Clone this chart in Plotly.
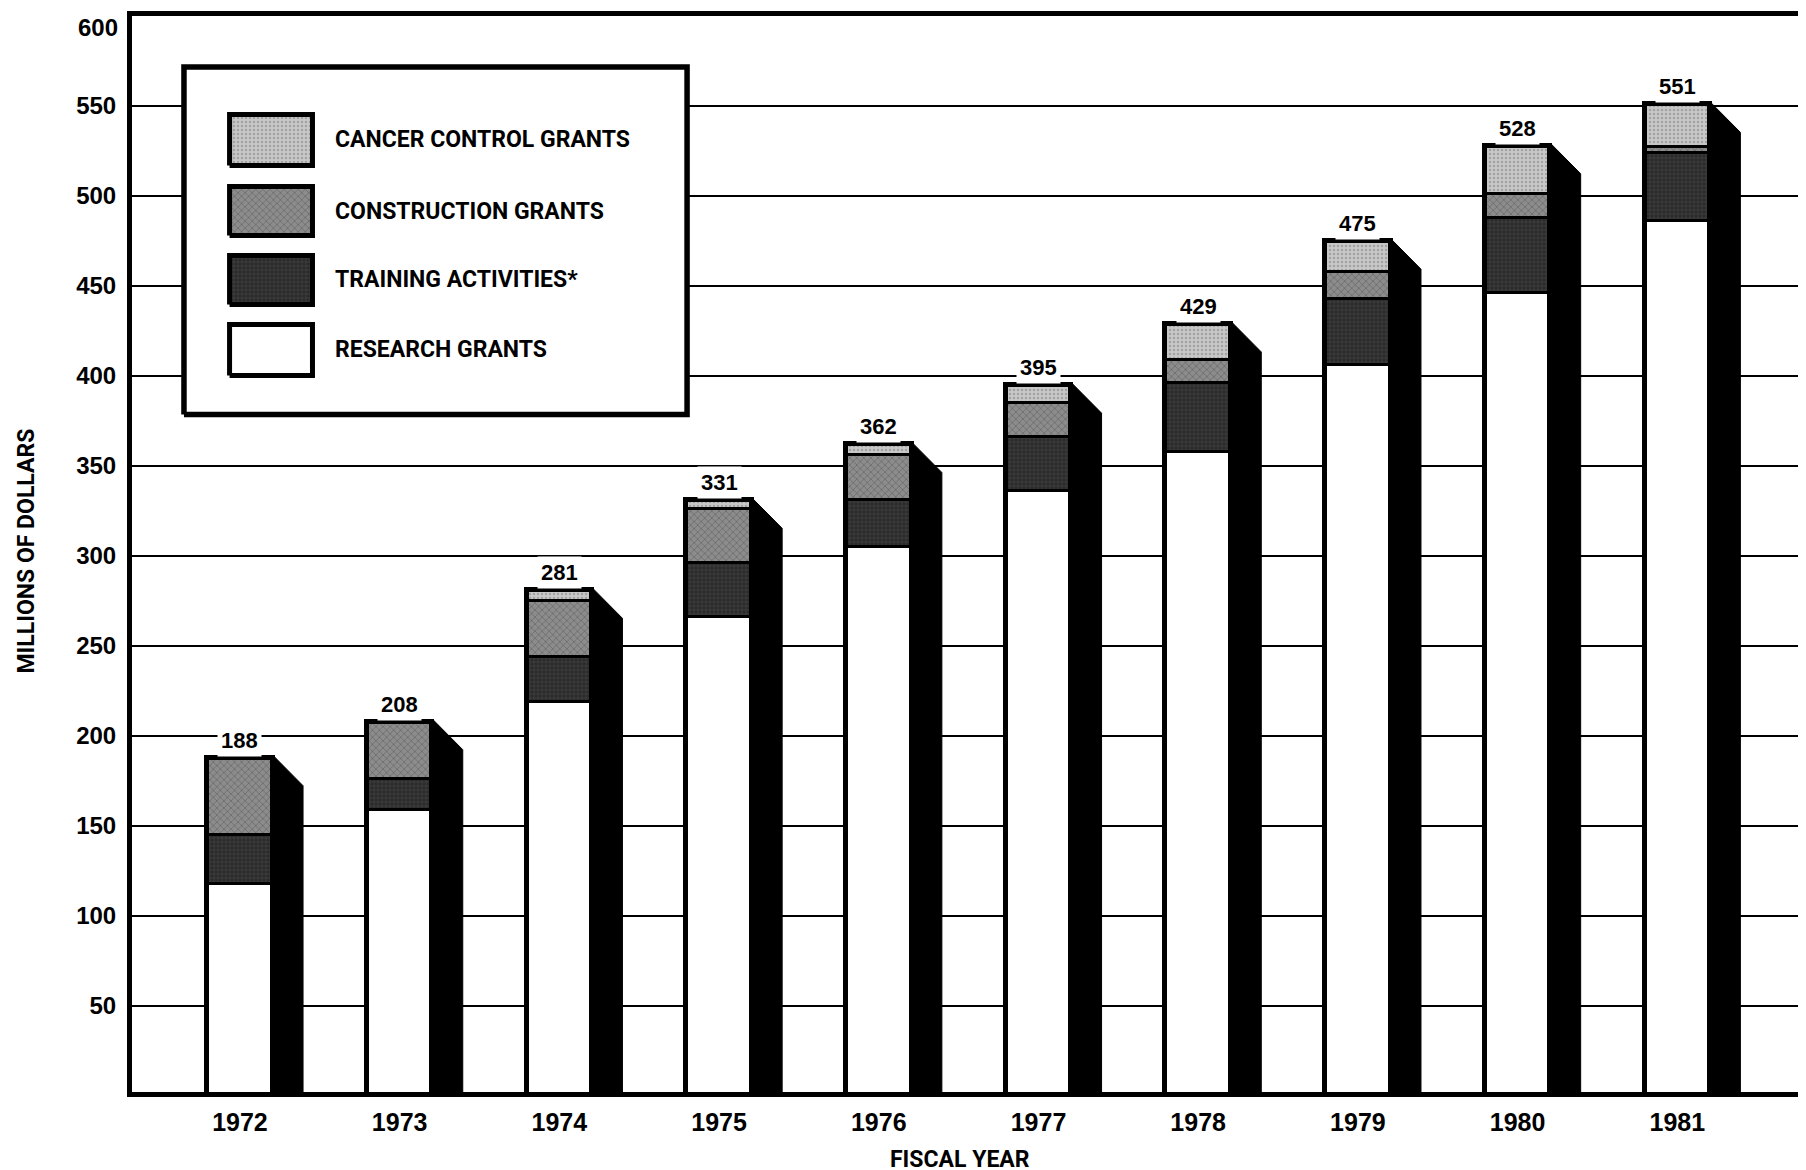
import plotly.graph_objects as go

# ---------------- data (millions of dollars) ----------------
years = [1972, 1973, 1974, 1975, 1976, 1977, 1978, 1979, 1980, 1981]
research_grants = [118, 159, 219, 266, 305, 336, 358, 406, 446, 486]
training_activities = [27, 17, 25, 30, 26, 30, 38, 37, 42, 38]
construction_grants = [43, 32, 31, 30, 25, 19, 13, 15, 13, 3]
cancer_control_grants = [0, 0, 6, 5, 6, 10, 20, 17, 27, 24]
total_labels = [188, 208, 281, 331, 362, 395, 429, 475, 528, 551]
y_ticks = [50, 100, 150, 200, 250, 300, 350, 400, 450, 500, 550, 600]
legend_names = ["CANCER CONTROL GRANTS", "CONSTRUCTION GRANTS",
                "TRAINING ACTIVITIES*", "RESEARCH GRANTS"]

# ---------------- styles ----------------
NARROW = "Roboto, Liberation Sans, sans-serif"
REG = "Liberation Sans, Arial, sans-serif"
BAR_W = 0.41
SIDE_W = 0.19
BEVEL = 17
TOP_PAD = 1.4

styles = {
    "cancer": dict(color="#c4c4c4", pattern=dict(shape=".", fgcolor="#a2a2a2", bgcolor="#c8c8c8", size=4, solidity=0.3, fillmode="replace")),
    "construction": dict(color="#8a8a8a", pattern=dict(shape="x", fgcolor="#6c6c6c", bgcolor="#8c8c8c", size=5, solidity=0.3, fillmode="replace")),
    "training": dict(color="#2c2c2c", pattern=dict(shape="+", fgcolor="#474747", bgcolor="#2a2a2a", size=4, solidity=0.3, fillmode="replace")),
    "research": dict(color="#ffffff", pattern=dict(shape="")),
}

# cumulative stacks (overlay drawing, tallest first)
cum_research = list(research_grants)
cum_training = [r + t for r, t in zip(cum_research, training_activities)]
cum_construction = [c + k for c, k in zip(cum_training, construction_grants)]
cum_cancer = [c + k for c, k in zip(cum_construction, cancer_control_grants)]

fig = go.Figure()

for key, vals, name in [("cancer", cum_cancer, legend_names[0]),
                        ("construction", cum_construction, legend_names[1]),
                        ("training", cum_training, legend_names[2]),
                        ("research", cum_research, legend_names[3])]:
    st = styles[key]
    fig.add_trace(go.Bar(
        x=years, y=vals, width=BAR_W, name=name, showlegend=False,
        marker=dict(color=st["color"], pattern=st["pattern"],
                    line=dict(color="black", width=3)),
        hoverinfo="skip"))

# thick outer outline of each front bar
fig.add_trace(go.Bar(
    x=years, y=cum_cancer, width=BAR_W, showlegend=False, hoverinfo="skip",
    marker=dict(color="rgba(0,0,0,0)", line=dict(color="black", width=5))))

# black 3-D side with bevelled top, derived from the data
sx, sy = [], []
for yr, tot in zip(years, cum_cancer):
    x0 = yr + BAR_W / 2
    x1 = x0 + SIDE_W
    sx += [x0, x0, x1, x1, x0, None]
    sy += [0, tot + TOP_PAD, tot + TOP_PAD - BEVEL, 0, 0, None]
fig.add_trace(go.Scatter(x=sx, y=sy, mode="lines", fill="toself",
                         fillcolor="black", line=dict(color="black", width=1),
                         showlegend=False, hoverinfo="skip"))

# ---------------- custom legend (overlay axes in paper units) ----------------
box = dict(x0=0.0309, x1=0.330, y0=0.6296, y1=0.9526)
fig.add_trace(go.Scatter(
    x=[box["x0"], box["x1"], box["x1"], box["x0"], box["x0"]],
    y=[box["y0"], box["y0"], box["y1"], box["y1"], box["y0"]],
    xaxis="x2", yaxis="y2", mode="lines", fill="toself", fillcolor="white",
    line=dict(color="black", width=5.5), showlegend=False, hoverinfo="skip"))

rows = [(0.9085, 0.8611), (0.8415, 0.7960), (0.7774, 0.7319), (0.7133, 0.6659)]
sw_x0, sw_x1 = 0.0580, 0.1073
for (ytop, ybot), key, name in zip(rows, ["cancer", "construction", "training", "research"], legend_names):
    st = styles[key]
    fig.add_trace(go.Scatter(
        x=[sw_x0, sw_x1, sw_x1, sw_x0, sw_x0], y=[ybot, ybot, ytop, ytop, ybot],
        xaxis="x2", yaxis="y2", mode="lines", fill="toself",
        fillcolor=st["color"],
        fillpattern=(st["pattern"] if st["pattern"].get("shape") else None),
        line=dict(color="black", width=5), showlegend=False, hoverinfo="skip"))
    fig.add_annotation(x=0.1195, y=(ytop + ybot) / 2, xref="paper", yref="paper",
                       text=name, showarrow=False, xanchor="left", yanchor="middle",
                       font=dict(family=NARROW, size=23, color="black", weight="bold"))

# value labels above each bar
for yr, tot, lab in zip(years, cum_cancer, total_labels):
    fig.add_annotation(x=yr, y=tot, text=str(lab), showarrow=False,
                       xanchor="center", yanchor="bottom", yshift=1,
                       bgcolor="white", borderpad=3,
                       font=dict(family=REG, size=22, color="black", weight="bold"))

# top tick label sits just under the frame line (as in the original)
top_tick = y_ticks[-1]
fig.add_annotation(x=0, y=top_tick, xref="paper", yref="y", text=str(top_tick),
                   showarrow=False, xanchor="right", yanchor="middle",
                   xshift=-13, yshift=-11, borderpad=0,
                   font=dict(family=REG, size=24, color="black", weight="bold"))

# axis titles
fig.add_annotation(x=-0.063, y=0.5023, xref="paper", yref="paper",
                   xanchor="center", yanchor="middle",
                   text="MILLIONS OF DOLLARS", textangle=-90, showarrow=False,
                   font=dict(family=NARROW, size=23, color="black", weight="bold"))
fig.add_annotation(x=0.4923, y=-0.0623, xref="paper", yref="paper",
                   xanchor="center", yanchor="middle",
                   text="FISCAL YEAR", showarrow=False,
                   font=dict(family=NARROW, size=23, color="black", weight="bold"))

fig.update_layout(
    width=1806, height=1170,
    margin=dict(l=124, r=0, t=8, b=86),
    paper_bgcolor="white", plot_bgcolor="white",
    barmode="overlay", bargap=0,
    showlegend=False,
    xaxis=dict(range=[1971.324, 1981.856], tickvals=years,
               ticktext=[str(y) for y in years], ticks="",
               tickfont=dict(family=REG, size=25, color="black", weight="bold"),
               ticklabelstandoff=4,
               showgrid=False, zeroline=False,
               showline=True, linecolor="black", linewidth=5, mirror=True),
    yaxis=dict(range=[2.2, 600.05], tickvals=y_ticks,
               ticktext=[str(v) if v != top_tick else "" for v in y_ticks],
               ticks="",
               tickfont=dict(family=REG, size=24, color="black", weight="bold"),
               ticklabelstandoff=6,
               showgrid=True, gridcolor="black", gridwidth=2,
               zeroline=False, showline=True, linecolor="black", linewidth=5),
    xaxis2=dict(overlaying="x", range=[0, 1], visible=False, fixedrange=True),
    yaxis2=dict(overlaying="y", range=[0, 1], visible=False, fixedrange=True),
)

fig.write_html("out.html")
